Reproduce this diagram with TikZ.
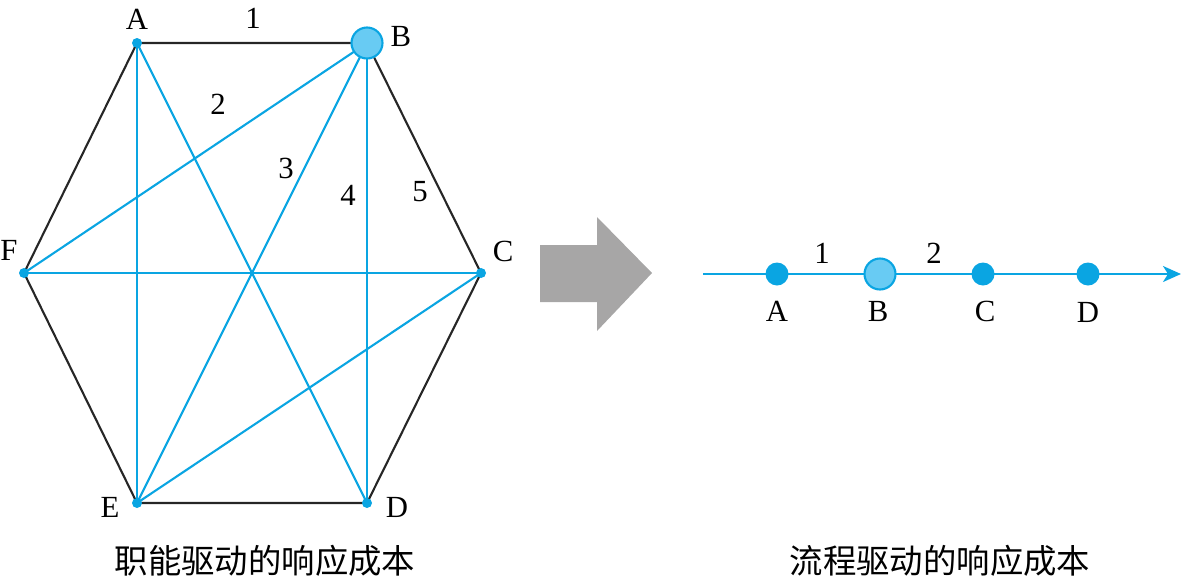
\documentclass[tikz,border=0pt]{standalone}
\usepackage{fontspec}
\setmainfont{Liberation Serif}
\newfontfamily\cjk{Noto Sans CJK SC}
\usetikzlibrary{arrows.meta}
\definecolor{lineblue}{HTML}{0AA5E2}
\definecolor{fillblue}{HTML}{68CBF3}
\definecolor{arrowgray}{HTML}{A7A6A6}
\tikzset{
  blk/.style={draw=black!85, line width=1.2pt},
  blu/.style={draw=lineblue, line width=1.2pt},
  smalldot/.style={circle, fill=lineblue, inner sep=0pt, minimum size=0.2cm},
  bigdot/.style={circle, fill=fillblue, draw=lineblue, line width=1.2pt, inner sep=0pt, minimum size=0.62cm},
  rdot/.style={circle, fill=lineblue, inner sep=0pt, minimum size=0.46cm},
  lbl/.style={font=\fontsize{17.5}{20}\selectfont, inner sep=0pt},
  captext/.style={font=\cjk\fontsize{19}{22}\selectfont, inner sep=0pt}
}
\begin{document}
\begin{tikzpicture}[x=0.02cm, y=-0.02cm]
\useasboundingbox (0,0) rectangle (1184,579);
% hexagon vertices
\coordinate (A) at (137,43);
\coordinate (B) at (367,43);
\coordinate (C) at (481,273);
\coordinate (D) at (367,503);
\coordinate (E) at (137,503);
\coordinate (F) at (24,273);
% black edges
\draw[blk] (A) -- (B) -- (C) -- (D) -- (E) -- (F) -- cycle;
% blue diagonals
\draw[blu] (A) -- (E);
\draw[blu] (A) -- (D);
\draw[blu] (B) -- (F);
\draw[blu] (B) -- (E);
\draw[blu] (B) -- (D);
\draw[blu] (F) -- (C);
\draw[blu] (C) -- (E);
% dots
\node[smalldot] (nA) at (A) {};
\node[smalldot] (nC) at (C) {};
\node[smalldot] (nD) at (D) {};
\node[smalldot] (nE) at (E) {};
\node[smalldot] (nF) at (F) {};
\node[bigdot] (nB) at (B) {};
% labels
\node[lbl] (lA) at (137,19) {A};
\node[lbl] (lB) at (401,36) {B};
\node[lbl] (lC) at (503,251) {C};
\node[lbl] (lD) at (397,507) {D};
\node[lbl] (lE) at (110,507) {E};
\node[lbl] (lF) at (9,250) {F};
\node[lbl] (l1) at (253,18) {1};
\node[lbl] (l2) at (218,104) {2};
\node[lbl] (l3) at (286,168) {3};
\node[lbl] (l4) at (348,195) {4};
\node[lbl] (l5) at (420,192) {5};
\node[captext] (capL) at (265,561) {职能驱动的响应成本};
% gray arrow
\fill[arrowgray] (540,245) -- (597,245) -- (597,217) -- (652,273) -- (597,331) -- (597,302) -- (540,302) -- cycle;
% right line
\coordinate (s) at (703,274);
\coordinate (t) at (1181,274);
\draw[blu, -{Stealth[length=0.36cm, width=0.32cm, inset=0.1cm]}] (s) -- (t);
\node[rdot] (rA) at (777,274) {};
\node[bigdot] (rB) at (880,274) {};
\node[rdot] (rC) at (983,274) {};
\node[rdot] (rD) at (1088,274) {};
\node[lbl] (rlA) at (777,311) {A};
\node[lbl] (rlB) at (878,311) {B};
\node[lbl] (rlC) at (985,311) {C};
\node[lbl] (rlD) at (1088,312) {D};
\node[lbl] (r1) at (822,253) {1};
\node[lbl] (r2) at (934,253) {2};
\node[captext] (capR) at (940,561) {流程驱动的响应成本};
\end{tikzpicture}
\end{document}
